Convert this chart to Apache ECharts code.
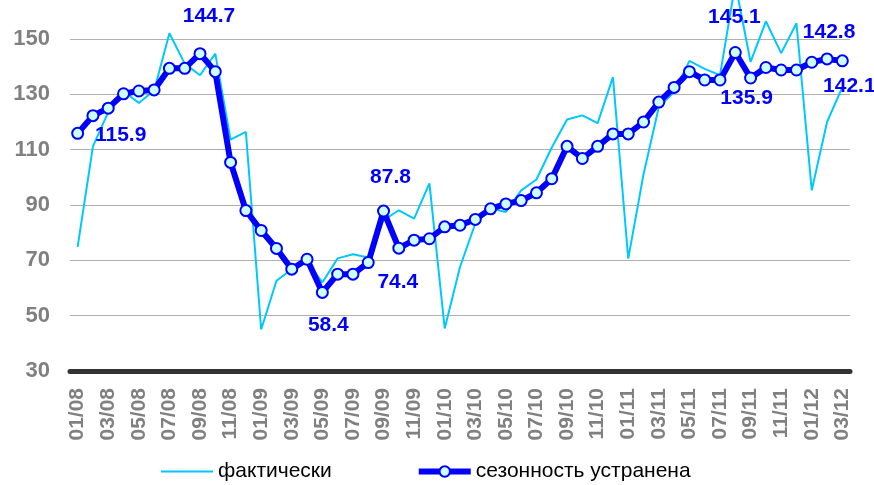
<!DOCTYPE html>
<html>
<head>
<meta charset="utf-8">
<script src="https://cdn.jsdelivr.net/npm/echarts@6/dist/echarts.min.js"></script>
<style>
  html, body { margin: 0; padding: 0; background: #fff; }
  #chart { width: 874px; height: 485px; }
</style>
</head>
<body>
<div id="chart"></div>
<script>
// месяцы 01/08 .. 03/12
var months = [
  '01/08','02/08','03/08','04/08','05/08','06/08','07/08','08/08','09/08','10/08','11/08','12/08',
  '01/09','02/09','03/09','04/09','05/09','06/09','07/09','08/09','09/09','10/09','11/09','12/09',
  '01/10','02/10','03/10','04/10','05/10','06/10','07/10','08/10','09/10','10/10','11/10','12/10',
  '01/11','02/11','03/11','04/11','05/11','06/11','07/11','08/11','09/11','10/11','11/11','12/11',
  '01/12','02/12','03/12'
];

var actual = [
  74.9, 111.2, 123.6, 131.1, 126.9, 131.4, 152.1, 141.1, 136.9, 144.7, 113.6, 116.4,
  45.0, 62.6, 66.8, 69.5, 62.0, 70.7, 72.2, 71.0, 84.5, 88.1, 85.1, 97.8,
  45.4, 67.6, 83.3, 88.7, 87.5, 95.3, 99.2, 110.8, 120.9, 122.4, 119.6, 136.2,
  70.6, 101.1, 125.4, 130.8, 142.1, 139.2, 136.9, 170.0, 141.7, 156.4, 144.9, 155.7,
  95.3, 120.0, 132.6
];

var seasonAdj = [
  115.9, 122.3, 125.0, 130.2, 131.2, 131.6, 139.4, 139.4, 144.7, 138.2, 105.4, 88.0,
  80.8, 74.3, 66.8, 70.4, 58.4, 65.0, 65.0, 69.2, 87.8, 74.4, 77.3, 77.8,
  82.1, 82.7, 84.8, 88.6, 90.4, 91.6, 94.4, 99.5, 111.2, 106.8, 111.2, 115.7,
  115.7, 120.0, 127.2, 132.5, 138.2, 135.2, 135.2, 145.1, 135.9, 139.7, 138.8, 138.8,
  141.6, 142.8, 142.1
];

// подписанные точки: индекс -> смещение подписи
var labelOffsets = {
  0: [43, 2], 8: [9, -37], 16: [6, 33], 20: [7, -34], 21: [-1, 34],
  43: [-1, -35], 44: [-4, 20], 49: [2, -27], 50: [7, 25]
};

var chart = echarts.init(document.getElementById('chart'));

var adjData = seasonAdj.map(function (v, i) {
  var off = labelOffsets[i];
  if (!off) return v;
  return {
    value: v,
    label: {
      show: true,
      position: 'inside',
      offset: off,
      formatter: function (p) { return p.value.toFixed(1); }
    }
  };
});

chart.setOption({
  animation: false,
  textStyle: { fontFamily: 'Liberation Sans, Arial, sans-serif' },
  grid: { left: 70, right: 24, top: 39, bottom: 114 },
  legend: {
    left: 155,
    top: 456,
    itemWidth: 52,
    itemHeight: 13,
    itemGap: 84,
    textStyle: { color: '#000', fontSize: 21 },
    data: [
      { name: 'фактически', itemStyle: { opacity: 0 } },
      { name: 'сезонность устранена', lineStyle: { width: 6 } }
    ]
  },
  xAxis: {
    type: 'category',
    boundaryGap: true,
    data: months,
    axisLine: { lineStyle: { color: '#333', width: 5, cap: 'round' } },
    axisTick: { show: false },
    axisLabel: {
      interval: 1,
      rotate: 90,
      margin: 17,
      color: '#808080',
      fontWeight: 'bold',
      fontSize: 21
    }
  },
  yAxis: {
    type: 'value',
    min: 30,
    max: 150,
    interval: 20,
    axisLine: { show: false },
    axisTick: { show: false },
    axisLabel: { color: '#808080', fontWeight: 'bold', fontSize: 22, margin: 20 },
    splitLine: { lineStyle: { color: '#b0b0b0', width: 1 } }
  },
  series: [{
    name: 'фактически',
    type: 'line',
    clip: false,
    symbol: 'none',
    data: actual,
    itemStyle: { color: '#00c8ff' },
    lineStyle: { color: '#00c8ff', width: 2 },
    z: 2
  }, {
    name: 'сезонность устранена',
    type: 'line',
    clip: false,
    symbol: 'circle',
    symbolSize: 11,
    showAllSymbol: true,
    data: adjData,
    itemStyle: { color: '#ccffff', borderColor: '#0000ff', borderWidth: 2 },
    lineStyle: { color: '#0000ff', width: 6 },
    label: {
      show: false,
      color: '#0000ff',
      fontWeight: 'bold',
      fontSize: 21,
      fontFamily: 'Liberation Sans, Arial, sans-serif'
    },
    z: 3
  }]
});
</script>
</body>
</html>
